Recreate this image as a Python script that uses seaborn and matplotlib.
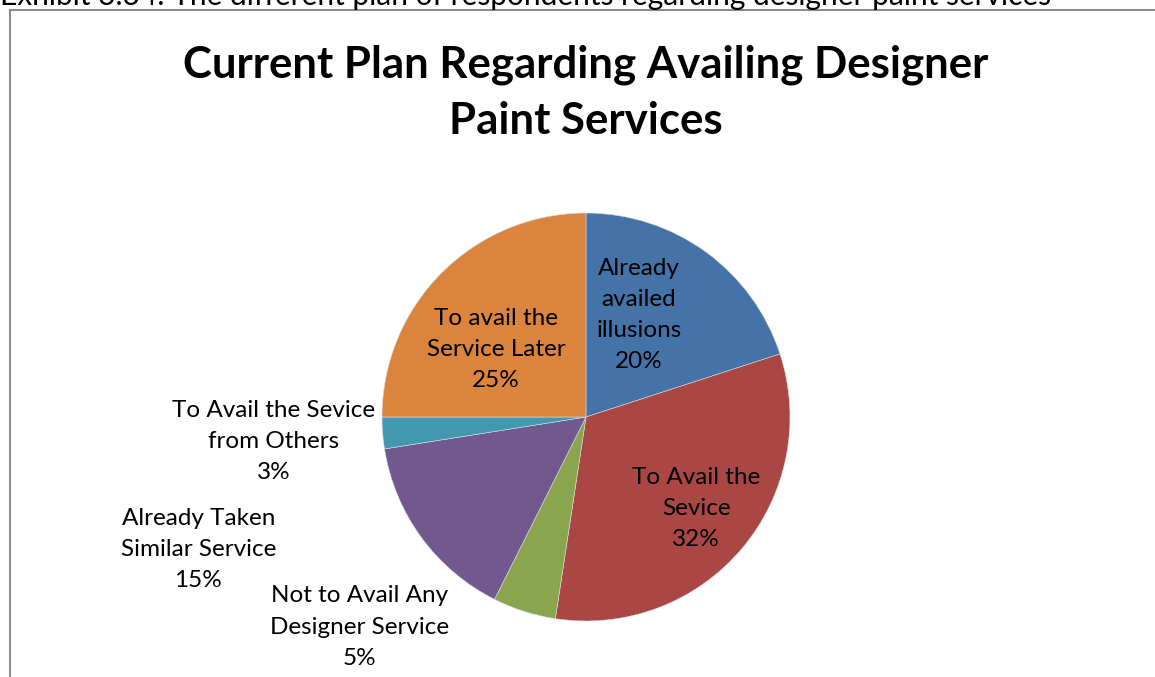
import numpy as np
import seaborn as sns
import matplotlib.pyplot as plt
from matplotlib.patches import Rectangle

sns.set_theme(style="white")
plt.rcParams['font.family'] = ['Lato', 'DejaVu Sans']

# データ
categories = [
    "Already\navailed\nillusions",
    "To Avail the\nSevice",
    "Not to Avail Any\nDesigner Service",
    "Already Taken\nSimilar Service",
    "To Avail the Sevice\nfrom Others",
    "To avail the\nService Later",
]
shares = [20, 32.4, 5, 15.1, 2.5, 25]
colors = ["#4572A7", "#AA4643", "#89A54E", "#71588F", "#4198AF", "#DB843D"]

# ラベル位置 (半径=1 の座標)
label_pos = [(0.26, 0.50), (0.54, -0.45), (-1.11, -1.03),
             (-1.90, -0.65), (-1.53, -0.12), (-0.44, 0.33)]

W, H = 1155, 677
cx, cy, r = 586, 417, 204

fig = plt.figure(figsize=(W / 100, H / 100), dpi=100)
fig.patch.set_facecolor("white")

# 外枠とキャプション
fig.patches.append(Rectangle((10 / W, -0.1), 1.2, (H - 10) / H + 0.1,
                             transform=fig.transFigure, fill=False,
                             edgecolor="#8c8c8c", linewidth=1.5))
fig.text(0.0, 1 - 5 / H, "Exhibit 3.34: The different plan of respondents regarding designer paint services",
         fontsize=21.5, ha="left", va="baseline", color="black")

ax = fig.add_axes([0, 0, 1, 1])
ax.pie(shares, colors=colors, startangle=90, counterclock=False,
       radius=1, wedgeprops=dict(linewidth=0.4, edgecolor="#dddddd"))
ax.set_aspect("auto")
ax.set_xlim(-cx / r, (W - cx) / r)
ax.set_ylim(-(H - cy) / r, cy / r)
ax.axis("off")

for name, v, (x, y) in zip(categories, shares, label_pos):
    ax.text(x, y, f"{name}\n{int(np.floor(v + 0.5))}%", ha="center", va="center",
            fontsize=17.5, linespacing=1.6, color="black")

fig.text(586 / W, 1 - 93 / H, "Current Plan Regarding Availing Designer\nPaint Services",
         ha="center", va="center", fontsize=31.5, fontweight="bold",
         linespacing=1.48, color="black")

fig.savefig("out.png", dpi=100)
